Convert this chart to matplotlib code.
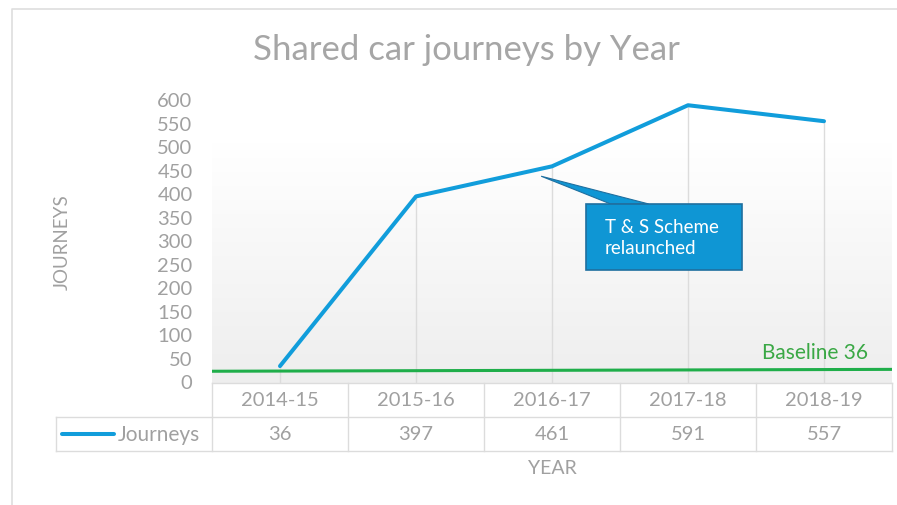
import numpy as np
import matplotlib.pyplot as plt
from matplotlib.colors import LinearSegmentedColormap
from matplotlib.patches import Polygon, Rectangle

# chart data
years = ["2014-15", "2015-16", "2016-17", "2017-18", "2018-19"]
journeys = [36, 397, 461, 591, 557]
baseline_ends = [25, 29]          # green baseline as drawn (left end, right end)
baseline_label = "Baseline 36"
callout_text = "T & S Scheme\nrelaunched"
yticks = list(range(0, 601, 50))

BLUE = "#119ddb"
GREEN = "#1fae4a"
GREY_TXT = "#a0a0a0"
GRID = "#dcdcdc"

plt.rcParams["font.family"] = ["Lato", "DejaVu Sans"]

fig = plt.figure(figsize=(8.97, 5.06), dpi=100)
fig.patch.set_facecolor("white")

# outer chart frame
frame = fig.add_axes([0, 0, 1, 1], zorder=-5)
frame.set_xlim(0, 897)
frame.set_ylim(506, 0)
frame.axis("off")
frame.plot([12, 12, 897], [506, 10, 10], color="#dedede", lw=1.2)

ax = fig.add_axes([212 / 897, 1 - 384 / 506, 680 / 897, 282 / 506])
x = np.arange(len(years))

# soft grey gradient in the plot area
cmap = LinearSegmentedColormap.from_list("bg", ["#eeeeee", "#ffffff"])
grad = np.linspace(0, 1, 256).reshape(-1, 1)
ax.imshow(grad, extent=(-0.5, len(years) - 0.5, 0, 510), origin="lower",
          cmap=cmap, aspect="auto", zorder=0)
ax.set_xlim(-0.5, len(years) - 0.5)
ax.set_ylim(0, 600)

# drop lines from each point
ax.vlines(x, 0, journeys, color=GRID, lw=1, zorder=1)

ax.plot(x, journeys, color=BLUE, lw=2.9, solid_capstyle="round",
        solid_joinstyle="round", zorder=4)
ax.plot([-0.5, len(years) - 0.5], baseline_ends, color=GREEN, lw=2.2, zorder=3)
ax.text(4.32, 45, baseline_label, color="#3aa845", fontsize=15,
        ha="right", va="bottom")

for s in ax.spines.values():
    s.set_visible(False)
ax.set_xticks([])
ax.set_yticks(yticks)
ax.tick_params(axis="y", length=0, pad=14, labelsize=14.5, labelcolor=GREY_TXT)
for lbl in ax.get_yticklabels():
    lbl.set_verticalalignment("center")

# callout pointing at the 2016-17 point
tip = (x[2] - 0.08, journeys[2] - 21)
box_x0, box_x1 = 2.25, 3.40
box_y0, box_y1 = 240, 381
ax.add_patch(Polygon([tip, (2.43, box_y1), (2.71, box_y1)], closed=True,
                     facecolor="#0f96d4", edgecolor="#1f6f9f", lw=0.8, zorder=5))
ax.add_patch(Rectangle((box_x0, box_y0), box_x1 - box_x0, box_y1 - box_y0,
                       facecolor="#0f96d4", edgecolor="#1f6f9f", lw=1.2, zorder=6))
ax.text(box_x0 + 0.14, (box_y0 + box_y1) / 2, callout_text, color="white",
        fontsize=13.5, ha="left", va="center", linespacing=1.3, zorder=7)

# data table under the plot
tr = ax.get_xaxis_transform()
row = 34 / 282
left_cell = -1.647
edges = np.arange(len(years) + 1) - 0.5
for e in edges:
    ax.plot([e, e], [0, -2 * row], color=GRID, lw=1, transform=tr, clip_on=False)
ax.plot([left_cell, left_cell], [-row, -2 * row], color=GRID, lw=1,
        transform=tr, clip_on=False)
ax.plot([edges[0], edges[-1]], [0, 0], color=GRID, lw=1, transform=tr, clip_on=False)
ax.plot([left_cell, edges[-1]], [-row, -row], color=GRID, lw=1, transform=tr, clip_on=False)
ax.plot([left_cell, edges[-1]], [-2 * row, -2 * row], color=GRID, lw=1,
        transform=tr, clip_on=False)

for xi, yr, v in zip(x, years, journeys):
    ax.text(xi, -0.5 * row, yr, transform=tr, ha="center", va="center",
            fontsize=14.5, color=GREY_TXT, clip_on=False)
    ax.text(xi, -1.5 * row, str(v), transform=tr, ha="center", va="center",
            fontsize=14.5, color=GREY_TXT, clip_on=False)

ax.plot([-1.60, -1.22], [-1.5 * row, -1.5 * row], color=BLUE, lw=2.9,
        transform=tr, clip_on=False, solid_capstyle="round")
ax.text(-1.19, -1.5 * row, "Journeys", transform=tr, ha="left", va="center",
        fontsize=15, color=GREY_TXT, clip_on=False)

ax.text(x[2], -2 * row - 0.06, "YEAR", transform=tr, ha="center", va="center",
        fontsize=14, color=GREY_TXT, clip_on=False)
fig.text(62 / 897, 1 - 242 / 506, "JOURNEYS", rotation=90, ha="center",
         va="center", fontsize=13.5, color=GREY_TXT)

fig.text(466 / 897, 1 - 50 / 506, "Shared car journeys by Year", ha="center",
         va="center", fontsize=25, color="#a6a6a6")

fig.savefig("out.png", dpi=100)
